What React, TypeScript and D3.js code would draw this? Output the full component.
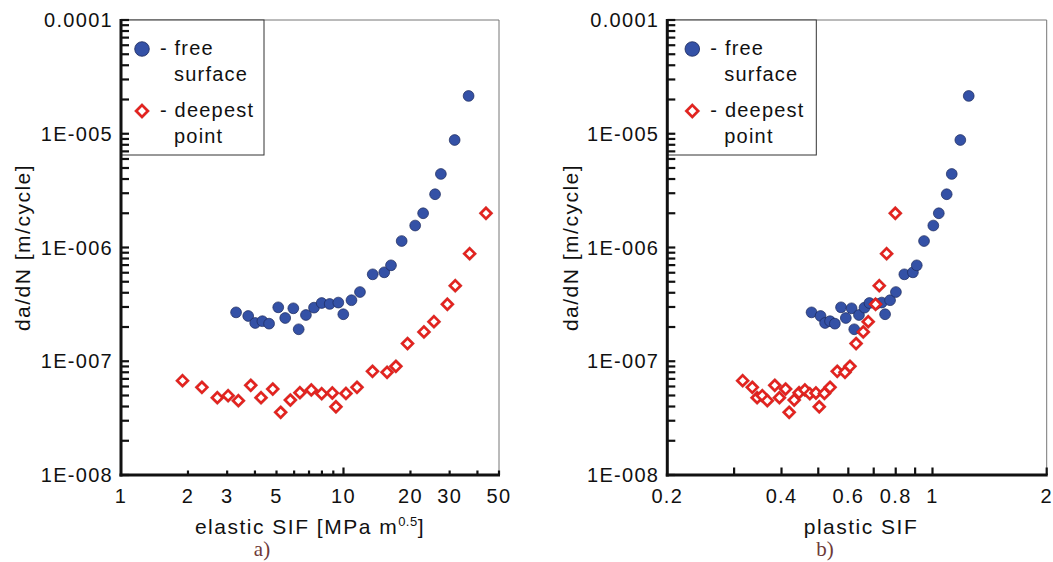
import * as d3 from 'd3';

const W = 1053;
const H = 562;

// shared y values (da/dN, m/cycle)
const freeRate = [2.69e-7, 2.5e-7, 2.17e-7, 2.25e-7, 2.14e-7, 2.98e-7, 2.4e-7, 2.92e-7, 1.91e-7, 2.55e-7, 2.96e-7, 3.25e-7, 3.19e-7, 3.28e-7, 2.59e-7, 3.44e-7, 4.06e-7, 5.81e-7, 6.05e-7, 6.97e-7, 1.14e-6, 1.56e-6, 2.0e-6, 2.94e-6, 4.43e-6, 8.81e-6, 2.15e-5];
const deepRate = [6.75e-8, 5.9e-8, 4.78e-8, 4.98e-8, 4.5e-8, 6.15e-8, 4.78e-8, 5.7e-8, 3.56e-8, 4.56e-8, 5.29e-8, 5.59e-8, 5.19e-8, 5.26e-8, 3.98e-8, 5.21e-8, 5.9e-8, 8.16e-8, 8.0e-8, 9.03e-8, 1.43e-7, 1.81e-7, 2.23e-7, 3.17e-7, 4.62e-7, 8.82e-7, 2.0e-6];

// x values: elastic SIF
const elasticFree = [3.29, 3.73, 4.01, 4.32, 4.63, 5.09, 5.47, 5.95, 6.29, 6.78, 7.37, 7.98, 8.67, 9.48, 9.98, 10.86, 11.86, 13.53, 15.25, 16.35, 18.26, 21.0, 22.8, 25.8, 27.4, 31.6, 36.5];
const elasticDeep = [1.89, 2.31, 2.71, 3.03, 3.37, 3.83, 4.26, 4.81, 5.22, 5.77, 6.37, 7.17, 7.98, 8.91, 9.25, 10.26, 11.5, 13.5, 15.7, 17.2, 19.4, 23.0, 25.5, 29.3, 31.8, 36.9, 43.7];

// x values: plastic SIF
const plasticFree = [0.48, 0.507, 0.521, 0.537, 0.553, 0.574, 0.591, 0.612, 0.622, 0.64, 0.662, 0.682, 0.71, 0.735, 0.75, 0.773, 0.801, 0.843, 0.888, 0.909, 0.95, 1.005, 1.039, 1.09, 1.124, 1.184, 1.246];
const plasticDeep = [0.316, 0.335, 0.345, 0.356, 0.367, 0.384, 0.395, 0.41, 0.419, 0.432, 0.445, 0.461, 0.475, 0.493, 0.503, 0.519, 0.537, 0.561, 0.588, 0.606, 0.629, 0.657, 0.677, 0.708, 0.724, 0.757, 0.798];

const yTickLabels = ['1E-008', '1E-007', '1E-006', '1E-005', '0.0001'];
const elasticTicks = [2, 3, 4, 5, 6, 7, 8, 9, 10, 20, 30, 40, 50];
const elasticLabels = [1, 2, 3, 5, 10, 20, 30, 50];
const plasticTicks = [0.3, 0.4, 0.5, 0.6, 0.7, 0.8, 0.9, 1, 2];
const plasticLabels = [0.2, 0.4, 0.6, 0.8, 1, 2];

const top = 20;
const bottom = 475;
const BLUE = '#3451a6';
const RED = '#e3231f';
const FONT = '"Liberation Sans", Arial, sans-serif';

const yScale = d3.scaleLog().domain([1e-8, 1e-4]).range([bottom, top]);
const yMinor = d3.range(-8, -4).flatMap((e) => d3.range(1, 10).map((m) => m * Math.pow(10, e))).concat([1e-4]);

const Diamond = ({ x, y, s = 5.3 }: { x: number; y: number; s?: number }) => (
  <g>
    <path d={`M${x},${y - s - 2.2}L${x + s + 2.2},${y}L${x},${y + s + 2.2}L${x - s - 2.2},${y}Z`} fill="#5a1a18" opacity={0.3} />
    <path d={`M${x},${y - s}L${x + s},${y}L${x},${y + s}L${x - s},${y}Z`} fill="white" stroke={RED} strokeWidth={2.6} />
  </g>
);

type PanelProps = {
  left: number;
  right: number;
  domain: [number, number];
  ticks: number[];
  labels: number[];
  longTick: (v: number) => boolean;
  freeX: number[];
  deepX: number[];
  legendW: number;
  legendDx: number;
  title: React.ReactNode;
  titleDx: number;
  letter: string;
  letterX: number;
  yTitleX: number;
};

const Panel = (p: PanelProps) => {
  const xScale = d3.scaleLog().domain(p.domain).range([p.left, p.right]);
  const cy = (top + bottom) / 2;
  const lx = p.left + p.legendDx;
  return (
    <g fontFamily={FONT}>
      {/* frame */}
      <line x1={p.left} x2={p.right} y1={top} y2={top} stroke="#777" strokeWidth={1} />
      <line x1={p.right} x2={p.right} y1={top} y2={bottom} stroke="#777" strokeWidth={1} />

      {/* legend */}
      <rect x={p.left} y={top} width={p.legendW} height={135} fill="white" stroke="#333" strokeWidth={1} />
      <circle cx={lx} cy={49} r={7.3} fill={BLUE} stroke="#1c2a5c" strokeWidth={0.8} />
      <Diamond x={lx} y={111} s={5.8} />
      <g fontSize={20} letterSpacing={1.2} fill="#111">
        <text x={lx + 18} y={55}>- free</text>
        <text x={lx + 32} y={81}>surface</text>
        <text x={lx + 18} y={117}>- deepest</text>
        <text x={lx + 32} y={143}>point</text>
      </g>

      {/* points */}
      {p.freeX.map((v, i) => (
        <circle key={'f' + i} cx={xScale(v)} cy={yScale(freeRate[i])} r={5.4} fill={BLUE} stroke="#1c2a5c" strokeWidth={0.7} />
      ))}
      {p.deepX.map((v, i) => (
        <Diamond key={'d' + i} x={xScale(v)} y={yScale(deepRate[i])} />
      ))}

      {/* y axis */}
      {yMinor.map((v, i) => (
        <line key={'yt' + i} x1={p.left} x2={p.left + 8} y1={yScale(v)} y2={yScale(v)} stroke="#111" strokeWidth={2.2} />
      ))}
      <line x1={p.left} x2={p.left} y1={top - 1} y2={bottom + 1.5} stroke="#111" strokeWidth={3} />
      {yTickLabels.map((t, i) => (
        <text key={'yl' + i} x={p.left - 8} y={yScale(Math.pow(10, i - 8))} dy="0.36em" textAnchor="end" fontSize={20} letterSpacing={1.3} fill="#111">{t}</text>
      ))}
      <text transform={`translate(${p.yTitleX},${cy}) rotate(-90)`} textAnchor="middle" dy="0.35em" fontSize={21} letterSpacing={1.5} fill="#111">da/dN [m/cycle]</text>

      {/* x axis */}
      {p.ticks.map((v, i) => (
        <line key={'xt' + i} x1={xScale(v)} x2={xScale(v)} y1={bottom} y2={bottom - (p.longTick(v) ? 7.5 : 4.5)} stroke="#111" strokeWidth={2.2} />
      ))}
      <line x1={p.left - 1.5} x2={p.right + 1} y1={bottom} y2={bottom} stroke="#111" strokeWidth={3} />
      {p.labels.map((v, i) => (
        <text key={'xl' + i} x={xScale(v)} y={503} textAnchor="middle" fontSize={20} letterSpacing={1.3} fill="#111">{String(v)}</text>
      ))}
      <text x={(p.left + p.right) / 2 + p.titleDx} y={534} textAnchor="middle" fontSize={21} letterSpacing={1.5} fill="#111">{p.title}</text>
      <text x={p.letterX} y={556} textAnchor="middle" fontSize={21} fill="#6e3a38" fontFamily='"Liberation Serif", "Times New Roman", serif'>{p.letter}</text>
    </g>
  );
};

export default function App() {
  return (
    <svg width={W} height={H} viewBox={`0 0 ${W} ${H}`} style={{ position: 'absolute', left: 0, top: 0, background: 'white' }}>
      <rect width={W} height={H} fill="white" />
      <Panel
        left={121}
        right={499}
        domain={[1, 50]}
        ticks={elasticTicks}
        labels={elasticLabels}
        longTick={(v) => v === 10}
        freeX={elasticFree}
        deepX={elasticDeep}
        legendW={143}
        legendDx={21}
        title={<>elastic SIF [MPa m<tspan dy={-8} fontSize={13} letterSpacing={0.5}>0.5</tspan><tspan dy={8}>]</tspan></>}
        titleDx={0}
        letter="a)"
        letterX={262}
        yTitleX={23}
      />
      <Panel
        left={667.3}
        right={1046.7}
        domain={[0.2, 2]}
        ticks={plasticTicks}
        labels={plasticLabels}
        longTick={() => true}
        freeX={plasticFree}
        deepX={plasticDeep}
        legendW={149}
        legendDx={25}
        title="plastic SIF"
        titleDx={4}
        letter="b)"
        letterX={825}
        yTitleX={571}
      />
    </svg>
  );
}
